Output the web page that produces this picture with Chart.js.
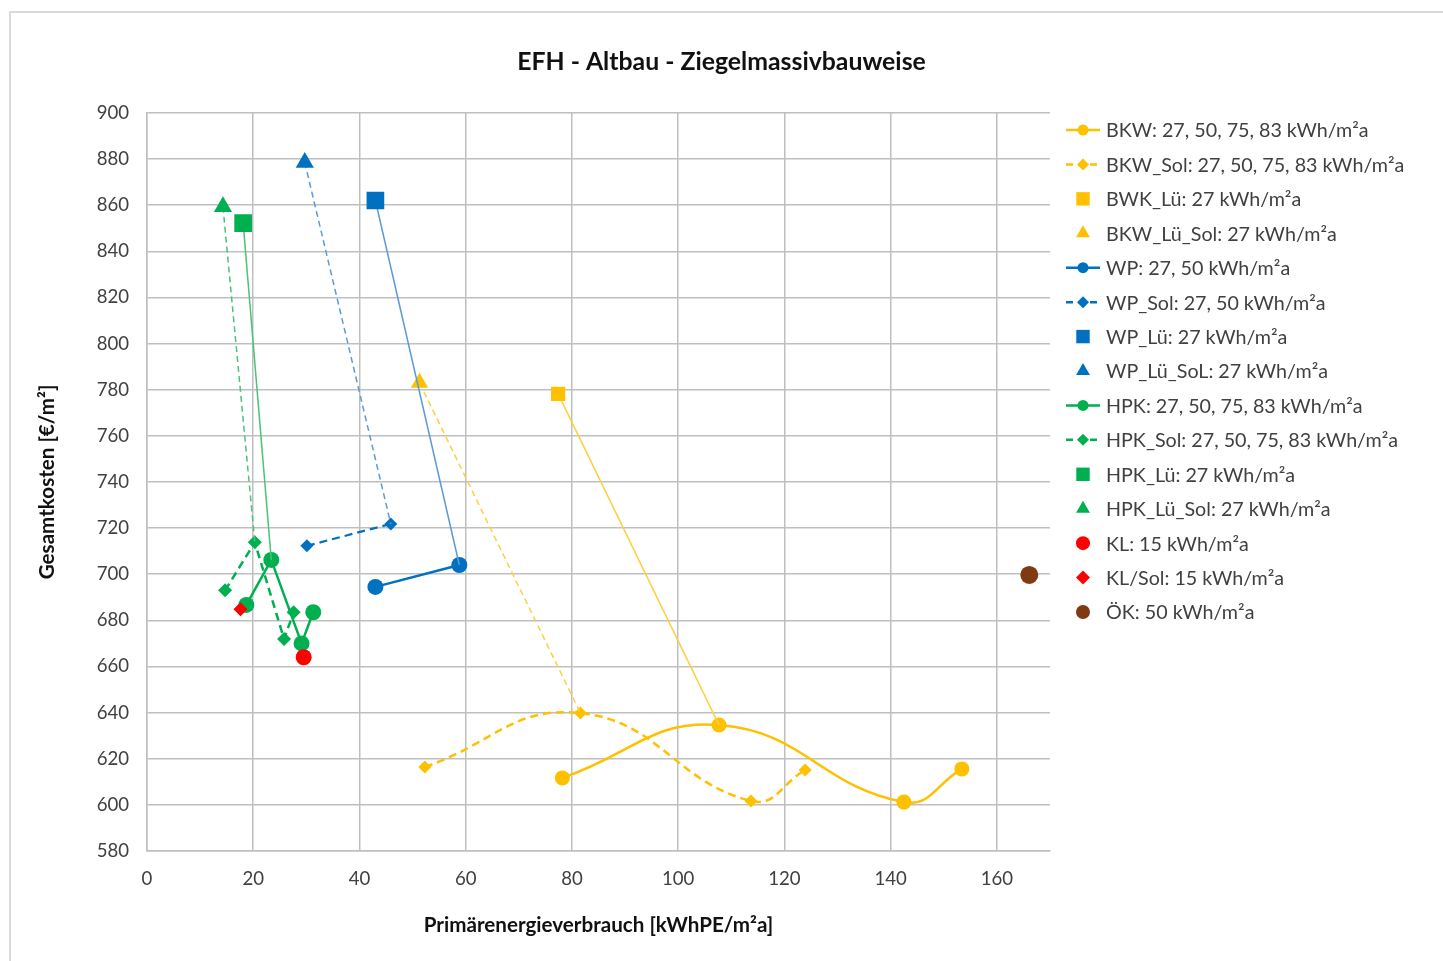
<!DOCTYPE html>
<html>
<head>
<meta charset="utf-8">
<script src="https://cdn.jsdelivr.net/npm/chart.js@4.4.1/dist/chart.umd.min.js"></script>
<style>
html, body { margin: 0; padding: 0; background: #fff; overflow: hidden; }
#wrap { position: relative; width: 1443px; height: 961px; }
#frame { position: absolute; left: 9px; top: 11px; width: 1500px; height: 1000px; border: 2px solid #d9d9d9; }
canvas { position: absolute; left: 0; top: 0; }
</style>
</head>
<body>
<div id="wrap"><div id="frame"></div><canvas id="chart" width="1443" height="961"></canvas></div>
<script>
// x = Primärenergieverbrauch [kWhPE/m²a], y = Gesamtkosten [€/m²]
var bkwX = [78.2, 107.7, 142.5, 153.4];
var bkwY = [611.7, 634.6, 601.2, 615.6];
var bkwSolX = [52.3, 81.6, 113.7, 123.9];
var bkwSolY = [616.4, 639.8, 601.7, 615.1];
var bkwLu = [77.4, 778.2];
var bkwLuSol = [51.3, 783.0];

var wpX = [43.0, 58.8];
var wpY = [694.5, 704.0];
var wpSolX = [30.1, 45.9];
var wpSolY = [712.3, 721.8];
var wpLu = [43.0, 862.0];
var wpLuSol = [29.7, 878.5];

var hpkX = [18.7, 23.4, 29.1, 31.3];
var hpkY = [686.7, 706.2, 670.0, 683.5];
var hpkSolX = [14.7, 20.3, 25.8, 27.6];
var hpkSolY = [693.0, 713.8, 671.9, 683.5];
var hpkLu = [18.1, 852.2];
var hpkLuSol = [14.3, 859.3];

var kl = [29.5, 664.0];
var klSol = [17.6, 684.8];
var ok = [166.1, 699.7];

var xTicks = { min: 0, max: 170, step: 20 };
var yTicks = { min: 580, max: 900, step: 20 };

var labels = [
  'BKW: 27, 50, 75, 83 kWh/m²a',
  'BKW_Sol: 27, 50, 75, 83 kWh/m²a',
  'BWK_Lü: 27 kWh/m²a',
  'BKW_Lü_Sol: 27 kWh/m²a',
  'WP: 27, 50 kWh/m²a',
  'WP_Sol: 27, 50 kWh/m²a',
  'WP_Lü: 27 kWh/m²a',
  'WP_Lü_SoL: 27 kWh/m²a',
  'HPK: 27, 50, 75, 83 kWh/m²a',
  'HPK_Sol: 27, 50, 75, 83 kWh/m²a',
  'HPK_Lü: 27 kWh/m²a',
  'HPK_Lü_Sol: 27 kWh/m²a',
  'KL: 15 kWh/m²a',
  'KL/Sol: 15 kWh/m²a',
  'ÖK: 50 kWh/m²a'
];

var YELLOW = '#FFC000', BLUE = '#0070C0', GREEN = '#00B050', RED = '#FF0000', BROWN = '#7F3A12';
var FONT = 'Lato, "Open Sans", sans-serif';

function pts(xs, ys) {
  return xs.map(function (x, i) { return { x: x, y: ys[i] }; });
}
function one(p) { return [{ x: p[0], y: p[1] }]; }
// marker point plus the point of the series it is linked to
function link(p, xs, ys, i) { return [{ x: p[0], y: p[1] }, { x: xs[i], y: ys[i] }]; }

function series(label, data, color, style, r, o) {
  o = o || {};
  return {
    label: label,
    data: data,
    borderColor: o.lineColor || color,
    backgroundColor: color,
    pointBackgroundColor: color,
    pointBorderColor: color,
    pointBorderWidth: 0,
    pointStyle: style,
    pointRadius: o.radius || r,
    pointHoverRadius: o.radius || r,
    showLine: !!o.line,
    borderWidth: o.width || 2.5,
    borderDash: o.dash || [],
    tension: o.tension || 0,
    legendLine: o.legendLine || null,
    legendR: o.legendR || 6
  };
}

var datasets = [
  series(labels[0], pts(bkwX, bkwY), YELLOW, 'circle', 7.5, { line: true, tension: 0.45, legendLine: 'solid', legendR: 5.5 }),
  series(labels[1], pts(bkwSolX, bkwSolY), YELLOW, 'rectRot', 6.5, { line: true, dash: [8, 5], tension: 0.45, legendLine: 'dash', legendR: 6 }),
  series(labels[2], link(bkwLu, bkwX, bkwY, 1), YELLOW, 'rect', 0, { radius: [10, 0], line: true, width: 1.5, lineColor: '#FFCF40', legendR: 9.5 }),
  series(labels[3], link(bkwLuSol, bkwSolX, bkwSolY, 1), YELLOW, 'triangle', 0, { radius: [10, 0], line: true, width: 1.5, dash: [6, 4], lineColor: '#FFCF40', legendR: 8 }),
  series(labels[4], pts(wpX, wpY), BLUE, 'circle', 8, { line: true, legendLine: 'solid', legendR: 5.5 }),
  series(labels[5], pts(wpSolX, wpSolY), BLUE, 'rectRot', 6.5, { line: true, width: 2.25, dash: [8, 5], legendLine: 'dash', legendR: 6 }),
  series(labels[6], link(wpLu, wpX, wpY, 1), BLUE, 'rect', 0, { radius: [12.5, 0], line: true, width: 1.5, lineColor: '#5B9BD5', legendR: 9.5 }),
  series(labels[7], link(wpLuSol, wpSolX, wpSolY, 1), BLUE, 'triangle', 0, { radius: [10.5, 0], line: true, width: 1.5, dash: [6, 4], lineColor: '#5B9BD5', legendR: 8 }),
  series(labels[8], pts(hpkX, hpkY), GREEN, 'circle', 8, { line: true, legendLine: 'solid', legendR: 5.5 }),
  series(labels[9], pts(hpkSolX, hpkSolY), GREEN, 'rectRot', 7, { line: true, dash: [8, 5], legendLine: 'dash', legendR: 6 }),
  series(labels[10], link(hpkLu, hpkX, hpkY, 1), GREEN, 'rect', 0, { radius: [12.5, 0], line: true, width: 1.5, lineColor: '#4CC27A', legendR: 9.5 }),
  series(labels[11], link(hpkLuSol, hpkSolX, hpkSolY, 1), GREEN, 'triangle', 0, { radius: [10.5, 0], line: true, width: 1.5, dash: [6, 4], lineColor: '#4CC27A', legendR: 8 }),
  series(labels[12], one(kl), RED, 'circle', 8, { legendR: 7 }),
  series(labels[13], one(klSol), RED, 'rectRot', 7, { legendR: 7 }),
  series(labels[14], one(ok), BROWN, 'circle', 9, { legendR: 7 })
];
// later series on top, as in the original
datasets.forEach(function (d, i) { d.order = -i; });

// legend drawn at the right, one row per series
var legendPlugin = {
  id: 'sideLegend',
  afterDraw: function (chart) {
    var ctx = chart.ctx;
    var x0 = 1066, x1 = 1100, xm = 1083, tx = 1106, y0 = 130, dy = 34.43;
    ctx.save();
    chart.data.datasets.forEach(function (d, i) {
      var y = y0 + i * dy;
      if (d.legendLine) {
        ctx.save();
        ctx.strokeStyle = d.borderColor;
        ctx.lineWidth = 2.5;
        ctx.setLineDash(d.legendLine === 'dash' ? [7, 5] : []);
        ctx.beginPath();
        ctx.moveTo(x0, y);
        ctx.lineTo(x1, y);
        ctx.stroke();
        ctx.restore();
      }
      ctx.fillStyle = d.backgroundColor;
      ctx.strokeStyle = d.backgroundColor;
      Chart.helpers.drawPoint(ctx, { pointStyle: d.pointStyle, radius: d.legendR, rotation: 0, borderWidth: 0 }, xm, y);
      ctx.fillStyle = '#404040';
      ctx.font = '19.7px ' + FONT;
      ctx.textBaseline = 'middle';
      ctx.textAlign = 'left';
      ctx.fillText(d.label, tx, y + 1);
    });
    ctx.restore();
  }
};

new Chart(document.getElementById('chart').getContext('2d'), {
  type: 'scatter',
  data: { datasets: datasets },
  plugins: [legendPlugin],
  options: {
    responsive: false,
    animation: false,
    layout: { padding: 0 },
    plugins: {
      legend: { display: false },
      tooltip: { enabled: false },
      title: {
        display: true,
        text: 'EFH - Altbau - Ziegelmassivbauweise',
        color: '#111',
        font: { family: FONT, size: 24.8, weight: 'bold' },
        padding: { top: 47.1, bottom: 36 }
      }
    },
    scales: {
      x: {
        type: 'linear',
        min: xTicks.min,
        max: xTicks.max,
        ticks: {
          stepSize: xTicks.step,
          includeBounds: false,
          color: '#404040',
          font: { family: FONT, size: 18.6 },
          padding: 17
        },
        grid: { color: '#BFBFBF', lineWidth: 1.5, drawTicks: false },
        border: { color: '#BFBFBF', width: 1.5 },
        title: {
          display: true,
          text: 'Primärenergieverbrauch [kWhPE/m²a]',
          color: '#111',
          font: { family: FONT, size: 20.6, weight: 'bold' },
          padding: { bottom: 23.6 }
        },
        afterFit: function (s) { s.height = 110; }
      },
      y: {
        type: 'linear',
        min: yTicks.min,
        max: yTicks.max,
        ticks: {
          stepSize: yTicks.step,
          color: '#404040',
          font: { family: FONT, size: 18.6 },
          padding: 18
        },
        grid: { color: '#BFBFBF', lineWidth: 1.5, drawTicks: false },
        border: { color: '#BFBFBF', width: 1.5 },
        title: {
          display: true,
          text: 'Gesamtkosten [€/m²]',
          color: '#111',
          font: { family: FONT, size: 20.6, weight: 'bold' },
          padding: { top: 34.6 }
        },
        afterFit: function (s) { s.width = 147; }
      },
      // empty axis that keeps room for the legend on the right
      legendSpace: {
        type: 'linear',
        position: 'right',
        display: true,
        ticks: { display: false },
        grid: { display: false, drawOnChartArea: false },
        border: { display: false },
        afterFit: function (s) { s.width = 393; }
      }
    }
  }
});
</script>
</body>
</html>
